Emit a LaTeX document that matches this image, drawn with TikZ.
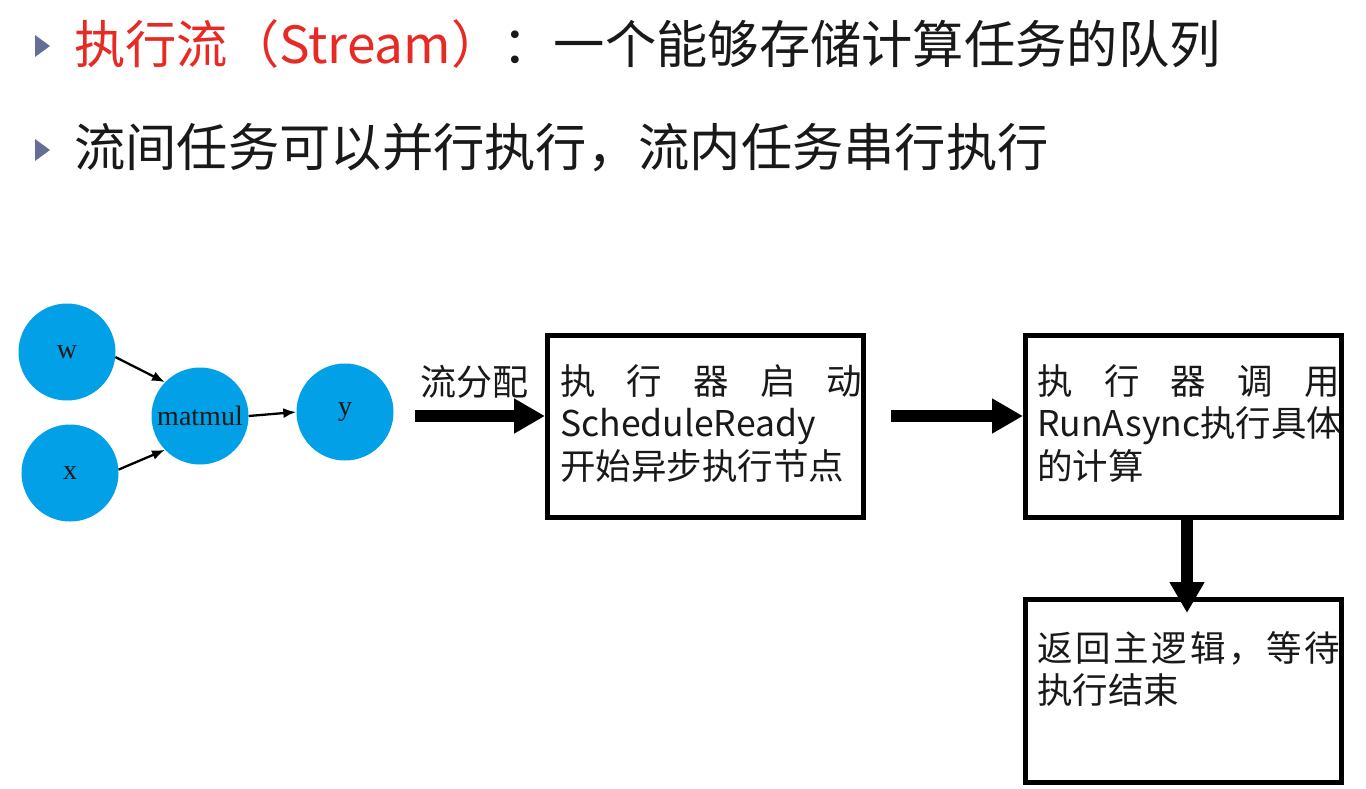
\documentclass[tikz,border=0pt]{standalone}
\usepackage{fontspec}
\setmainfont{Noto Sans CJK SC}
\newfontfamily\seriffont{Liberation Serif}
\usetikzlibrary{arrows.meta}
\definecolor{nodeblue}{RGB}{2,160,230}
\definecolor{titlered}{RGB}{232,42,36}
\definecolor{bulletgray}{RGB}{102,110,150}
\definecolor{txt}{RGB}{25,25,25}
\newcommand\jline[2]{\makebox[#1][s]{#2}}
\begin{document}
\begin{tikzpicture}[x=1pt,y=-1pt,
  circ/.style={circle,fill=nodeblue,minimum size=97pt,inner sep=0pt,font=\seriffont\fontsize{28}{30}\selectfont,text=txt},
  thinarrow/.style={line width=2.3pt,-{Latex[length=13pt,width=10pt]}},
  bigarrow/.style={line width=12pt,-{Triangle[length=31pt 0 1,width=33pt 0 1]}},
  stepbox/.style={draw,line width=5pt,minimum width=316pt,inner sep=0pt},
  boxtext/.style={anchor=north west,inner sep=0pt,align=left,font=\fontsize{35.5}{42.5}\selectfont,text=txt},
  titletext/.style={anchor=west,inner sep=0pt,font=\fontsize{51.3}{60}\selectfont,text=txt},
  bulletmark/.style={fill=bulletgray}
]
\useasboundingbox (0,0) rectangle (1366,788);
\fill[white] (0,0) rectangle (1366,788);

% title bullets
\fill[bulletmark] (35,35) -- (50,46) -- (35,57) -- cycle;
\fill[bulletmark] (35,139) -- (50,150) -- (35,161) -- cycle;
\node[titletext] (t1) at (74,44) {\textcolor{titlered}{执行流（Stream）}：一个能够存储计算任务的队列};
\node[titletext] (t2) at (74,148) {流间任务可以并行执行，流内任务串行执行};

% graph
\node[circ] (w) at (67,352) {w};
\node[circ] (x) at (70,473) {x};
\node[circ] (m) at (200,416) {matmul};
\node[circ] (y) at (345,412) {y};
\draw[thinarrow] (w.-6) -- (m.136);
\draw[thinarrow] (x.4) -- (m.-136);
\draw[thinarrow] (m.east) -- (y.west);

% boxes
\node[stepbox,minimum height=182pt] (b1) at (705.5,426.5) {};
\node[stepbox,minimum height=182pt] (b2) at (1183.5,426.5) {};
\node[stepbox,minimum height=183pt] (b3) at (1183.5,691) {};

\node[boxtext] (b1t) at (560,364) {\jline{302pt}{执\hfil 行\hfil 器\hfil 启\hfil 动}\\ScheduleReady\\开始异步执行节点};
\node[boxtext] (b2t) at (1037,364) {\jline{303pt}{执\hfil 行\hfil 器\hfil 调\hfil 用}\\\jline{303pt}{RunAsync\hfil 执\hfil 行\hfil 具\hfil 体}\\的计算};
\node[boxtext] (b3t) at (1037,631) {\jline{303pt}{返\hfil 回\hfil 主\hfil 逻\hfil 辑\hfil ，\hfil 等\hfil 待}\\执行结束};

% big arrows
\coordinate (a1) at (415,416);
\coordinate (a2) at (891,416);
\coordinate (a3) at (1187,520);
\node[anchor=center,inner sep=0pt,font=\fontsize{36}{40}\selectfont,text=txt] (lab) at (474,382) {流分配};
\draw[bigarrow] (a1) -- (a1 -| b1.west);
\draw[bigarrow] (a2) -- (a2 -| b2.west);
\draw[bigarrow,shorten >=-16pt] (a3) -- (a3 |- b3.north);
\end{tikzpicture}
\end{document}
